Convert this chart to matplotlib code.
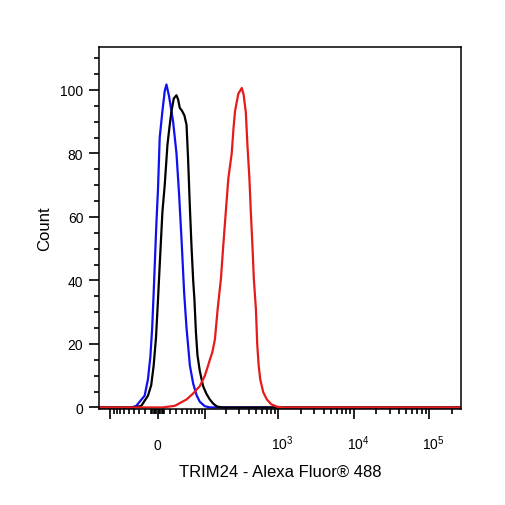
"""
Flow cytometry histogram: TRIM24 staining, overlay of three samples
"""

# Third Party Libraries
import matplotlib
matplotlib.use('Agg')
import matplotlib.pyplot as plt
import matplotlib.transforms as mtransforms

# Output filename
out_file = 'out.png'

# Fluorescence values (x) and normalised counts (y)
blue_x = [-145, -44.3, -35.1, -20.5, -15.1, -11.3, -8.5, -6.2, -2.0, 0.46,
          3.07, 7.24, 10.8, 13.5, 17.7, 24.4, 30.3, 35.1, 39.7, 45, 50,
          57.5, 65.5, 74.6, 83.6, 99.3, 118, 270000]
blue_y = [0, 0, 0.5, 3.7, 8.9, 16, 25, 36, 58, 68.8,
          85, 93.3, 99.6, 101.7, 98, 90, 80, 67, 53, 36, 25,
          13.2, 7.5, 3.8, 1.8, 0.4, 0, 0]

black_x = [-145, -38.3, -26.1, -15.1, -10.0, -6.2, -2.6, 0.46, 3.84, 7.24,
           10.8, 15.1, 18.8, 21.7, 25.6, 30.3, 33.2, 36.4, 40.3, 45.4, 50,
           53.5, 57.5, 61.6, 65.5, 68.6, 72.6, 76.8, 83.6, 93.9, 105.7, 118,
           131.9, 148.7, 174.7, 270000]
black_y = [0, 0, 0.5, 3.7, 7, 13.2, 22, 34, 48, 61.6,
           70, 82.7, 89, 93.3, 97.3, 98.3, 97, 94.3, 93.5, 92, 89,
           78, 63, 50, 40, 34.2, 23.8, 16.5, 11.5, 6.7, 4.2, 2.5,
           1.2, 0.3, 0, 0]

red_x = [-145, 7.7, 27.3, 50, 64.7, 83.6, 99.3, 108.8, 118, 128.6, 139.5,
         152.3, 169.1, 182.2, 197.4, 213.6, 237.6, 251.4, 263.6, 292, 325,
         343.8, 368, 386.7, 411.3, 429.4, 451.1, 471, 502, 522.7, 547.4, 573,
         628.4, 703, 802, 964, 1233, 270000]
red_y = [0, 0, 0.5, 2.5, 4.3, 6.7, 9.9, 12.5, 15, 17.5, 21.5,
         31, 40.5, 51, 61.6, 72, 80, 88, 93.3, 98.8, 100.6,
         98.5, 93, 82.7, 72, 61.6, 51, 40.5, 31, 20, 13, 8.9,
         4.8, 2.5, 1.0, 0.2, 0, 0]

# Axis ticks (biexponential-like display)
x_major = [-100, 0, 100, 1000, 10000, 100000]
x_major_labels = ['', '0', '', '$10^{3}$', '$10^{4}$', '$10^{5}$']
x_minor = ([-s for s in range(10, 100, 10)] + [-s for s in range(2, 10, 2)]
           + list(range(2, 10, 2)) + list(range(10, 100, 10))
           + [m * d for d in (100, 1000, 10000) for m in range(2, 10)]
           + [200000])
y_major = [0, 20, 40, 60, 80, 100]
y_minor = [v for v in range(0, 115, 5) if v % 20 != 0]


def main():

    plt.rcParams['font.family'] = ['Liberation Sans', 'DejaVu Sans']
    plt.rcParams['mathtext.fontset'] = 'custom'
    plt.rcParams['mathtext.rm'] = 'Liberation Sans'
    plt.rcParams['mathtext.it'] = 'Liberation Sans:italic'
    plt.rcParams['mathtext.bf'] = 'Liberation Sans:bold'

    fig = plt.figure(figsize=(5.06, 5.06), dpi=100)
    ax = fig.add_axes([0.1962, 0.1897, 0.7158, 0.7148])

    # Histograms, red drawn last so it sits on top
    ax.plot(blue_x, blue_y, color='#1010f0', lw=1.6)
    ax.plot(black_x, black_y, color='black', lw=1.6)
    ax.plot(red_x, red_y, color='#e51b1b', lw=1.6)

    # Log-like axis with linear region around zero
    ax.set_xscale('asinh', linear_width=50)
    ax.set_xlim(-145, 270000)
    ax.set_ylim(-0.5, 113.4)

    ax.set_xticks(x_major)
    ax.set_xticklabels(x_major_labels)
    ax.set_xticks(x_minor, minor=True)
    ax.set_yticks(y_major)
    ax.set_yticks(y_minor, minor=True)

    ax.tick_params(which='both', direction='out', color='black', width=1.2)
    ax.tick_params(which='major', length=7, labelsize=10)
    ax.tick_params(which='minor', length=3.6)
    ax.tick_params(axis='x', which='major', pad=22)
    ax.tick_params(axis='y', which='major', pad=4.5)

    # Baseline-align x labels and nudge power labels so "10" sits on the tick
    shift = mtransforms.ScaledTranslation(3 / 72, 0, fig.dpi_scale_trans)
    for lab in ax.get_xticklabels():
        lab.set_va('baseline')
        if '^' in lab.get_text():
            lab.set_transform(lab.get_transform() + shift)

    for side in ax.spines.values():
        side.set_linewidth(1.1)

    ax.set_xlabel('TRIM24 - Alexa Fluor\u00ae 488', fontsize=12, labelpad=8)
    ax.set_ylabel('Count', fontsize=12, labelpad=6)

    fig.savefig(out_file, dpi=100)


# Start program execution at main
if __name__ == '__main__':
    main()
